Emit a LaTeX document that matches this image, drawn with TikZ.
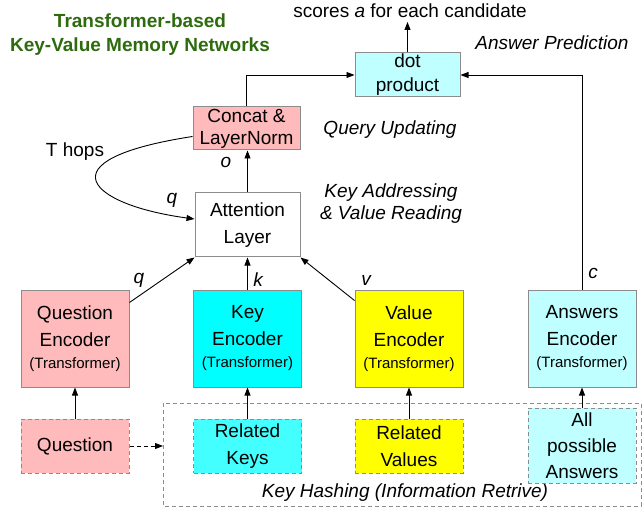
\documentclass[tikz,border=0pt]{standalone}
\usepackage{fontspec}
\setmainfont{Liberation Sans}
\usetikzlibrary{arrows.meta,calc}
\definecolor{pinkc}{HTML}{FFBBBB}
\definecolor{cyanc}{HTML}{00FFFF}
\definecolor{cyanm}{HTML}{44FFFF}
\definecolor{cyanl}{HTML}{BFFFFF}
\definecolor{yellowc}{HTML}{FFFF00}
\definecolor{greent}{HTML}{2E6B0E}
\definecolor{bordc}{HTML}{8C8C8C}
\begin{document}
\begin{tikzpicture}[x=1pt,y=-1pt,
  box/.style={draw=bordc, line width=1pt, align=center, inner sep=0pt, font=\fontsize{19}{27}\selectfont},
  encbox/.style={box, minimum width=108pt, minimum height=97pt},
  inbox/.style={box, dash pattern=on 4pt off 3pt, minimum width=108pt, minimum height=54pt},
  arr/.style={-{Triangle[length=8pt,width=6pt]}, line width=0.9pt},
  lab/.style={font=\fontsize{19}{22}\selectfont\itshape, inner sep=0pt},
  plain/.style={font=\fontsize{19}{22}\selectfont, inner sep=0pt},
  ttl/.style={font=\fontsize{19}{24}\selectfont\bfseries, text=greent, align=center, inner sep=0pt}
]
\useasboundingbox (0,0) rectangle (644,510);

% title
\node[ttl] (title) at (140,35) {Transformer-based\\Key-Value Memory Networks};

% big dashed area
\draw[bordc, line width=0.9pt, dash pattern=on 4pt off 3pt] (163,403) rectangle (641,506);
\node[lab] (hash) at (405,493) {Key Hashing (Information Retrive)};

% encoders
\node[encbox, fill=pinkc] (qenc) at (75,338.5) {Question\\Encoder\\[-5pt]{\fontsize{15}{17}\selectfont(Transformer)}};
\node[encbox, fill=cyanc] (kenc) at (247.5,338.5) {Key\\Encoder\\[-5pt]{\fontsize{15}{17}\selectfont(Transformer)}};
\node[encbox, fill=yellowc] (venc) at (409,338.5) {Value\\Encoder\\[-5pt]{\fontsize{15}{17}\selectfont(Transformer)}};
\node[encbox, fill=cyanl] (aenc) at (582,338.5) {Answers\\Encoder\\[-5pt]{\fontsize{15}{17}\selectfont(Transformer)}};

% inputs
\node[inbox, fill=pinkc] (ques) at (75,446) {Question};
\node[inbox, fill=cyanm] (rkeys) at (247.5,446) {Related\\Keys};
\node[inbox, fill=yellowc] (rvals) at (409,446) {Related\\Values};
\node[inbox, fill=cyanl, minimum height=75pt, font=\fontsize{19}{26}\selectfont] (allans) at (582,445.5) {All\\possible\\Answers};

% upper boxes
\node[box, fill=white, minimum width=105pt, minimum height=64pt] (att) at (247.5,225) {Attention\\Layer};
\node[box, fill=pinkc, minimum width=107pt, minimum height=43pt, font=\fontsize{19}{22}\selectfont] (concat) at (246.5,128.5) {Concat \&\\LayerNorm};
\node[box, fill=cyanl, minimum width=105pt, minimum height=44pt, font=\fontsize{19}{24}\selectfont] (dot) at (407.5,75) {dot\\product};

% text labels
\node[plain] (scores) at (410,11) {scores \textit{a} for each candidate};
\coordinate (scorebase) at (407.5,22);
\node[lab] (ap) at (552,43) {Answer Prediction};
\node[lab] (qu) at (390,130) {Query Updating};
\node[lab, align=center] (ka) at (391,204) {Key Addressing\\\& Value Reading};
\node[plain] (thops) at (75,152) {T hops};
\node[lab] (lo) at (226,162) {o};
\node[lab] (lq2) at (172,200) {q};
\node[lab] (lq) at (139,280) {q};
\node[lab] (lk) at (258,280) {k};
\node[lab] (lv) at (366,280) {v};
\node[lab] (lc) at (593,273) {c};

% arrows bottom
\draw[arr] (ques.north) -- (qenc.south);
\draw[arr] (rkeys.north) -- (kenc.south);
\draw[arr] (rvals.north) -- (venc.south);
\draw[arr] (allans.north) -- (aenc.south);
\coordinate (hashw) at (163,446);
\draw[arr, dash pattern=on 4pt off 3pt] (ques.east) -- (hashw);

% encoders to attention
\draw[arr] ($(qenc.north east)+(0,13)$) -- (att.south west);
\draw[arr] (kenc.north) -- (kenc.north |- att.south);
\draw[arr] ($(venc.north west)+(0,11)$) -- (att.south east);

% attention to concat
\draw[arr] (att.north) -- (att.north |- concat.south);

% concat to dot
\draw[arr] (concat.north) |- (dot.west);
\draw[arr] (aenc.north) |- (dot.east);
\draw[arr] (dot.north) -- (scorebase);

% T hops loop
\draw[arr] ($(concat.west)+(0,8)$) .. controls (40,160) and (90,205) .. ($(att.west)+(0,-6)$);
\end{tikzpicture}
\end{document}
